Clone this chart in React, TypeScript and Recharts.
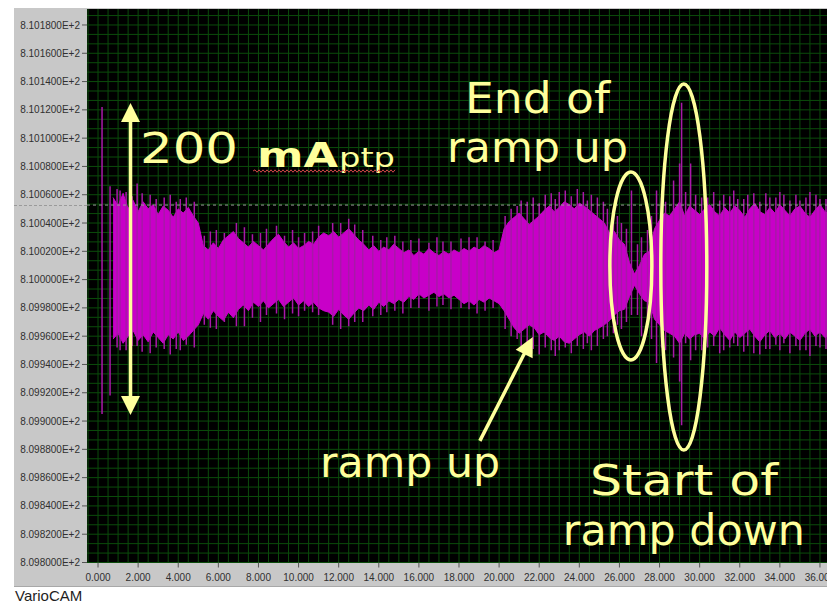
import React from 'react';
import {
  ComposedChart,
  Area,
  Line,
  XAxis,
  YAxis,
  CartesianGrid,
  ReferenceLine,
  ReferenceDot,
} from 'recharts';

// ---------- data (time in s, current in A) ----------
const bandX = [
  0.75, 1, 1.25, 1.5, 1.75, 2, 2.25, 2.5, 2.75, 3, 3.25, 3.5, 3.75, 4, 4.25, 4.5, 4.75, 5,
  5.25, 5.5, 5.75, 6, 6.25, 6.5, 6.75, 7, 7.25, 7.5, 7.75, 8, 8.25, 8.5, 8.75, 9, 9.25, 9.5, 9.75, 10, 10.25, 10.5, 10.75, 11, 11.25,
  11.5, 11.75, 12, 12.25, 12.5, 12.75, 13, 13.25, 13.5, 13.75, 14, 14.25, 14.5, 14.75, 15, 15.25, 15.5, 15.75, 16, 16.25,
  16.5, 16.75, 17, 17.25, 17.5, 17.75, 18, 18.25, 18.5, 18.75, 19, 19.25, 19.5, 19.75, 20,
  20.25, 20.5, 20.75, 21, 21.25, 21.5, 21.75, 22, 22.25, 22.5, 22.75, 23, 23.25, 23.5, 23.75, 24, 24.25, 24.5, 24.75, 25, 25.25, 25.5,
  25.75, 26, 26.25, 26.5, 26.75, 27, 27.25, 27.5, 27.75, 28, 28.25, 28.5,
  28.75, 29, 29.25, 29.5, 29.75,
  30, 30.25, 30.5, 30.75, 31, 31.25, 31.5, 31.75, 32, 32.25, 32.5, 32.75, 33, 33.25, 33.5, 33.75, 34, 34.25, 34.5, 34.75, 35, 35.25, 35.5, 35.75, 36, 36.25, 36.5,
];

const bandHi = [
  810.058, 810.052, 810.061, 810.05, 810.056, 810.048, 810.055, 810.05, 810.053, 810.046, 810.052, 810.049, 810.044, 810.05, 810.047, 810.051, 810.045, 810.04,
  810.024, 810.021, 810.026, 810.022, 810.028, 810.031, 810.034, 810.029, 810.026, 810.023, 810.027, 810.024, 810.021, 810.025, 810.029, 810.032, 810.027, 810.023, 810.026, 810.022, 810.024, 810.027, 810.025, 810.03, 810.033,
  810.031, 810.034, 810.03, 810.033, 810.036, 810.032, 810.028, 810.025, 810.021, 810.024, 810.02, 810.023, 810.021, 810.025, 810.022, 810.019, 810.021, 810.017, 810.02, 810.018,
  810.022, 810.019, 810.017, 810.02, 810.018, 810.021, 810.019, 810.022, 810.02, 810.023, 810.021, 810.024, 810.022, 810.019, 810.021,
  810.036, 810.041, 810.044, 810.047, 810.043, 810.039, 810.042, 810.045, 810.049, 810.052, 810.048, 810.051, 810.055, 810.053, 810.05, 810.054, 810.052, 810.049, 810.046, 810.043, 810.04, 810.033,
  810.034, 810.028, 810.025, 810.012, 810.004, 810.01, 810.018, 810.02, 810.036, 810.042, 810.047, 810.045,
  810.05, 810.055, 810.045, 810.052, 810.049,
  810.046, 810.05, 810.053, 810.048, 810.045, 810.051, 810.047, 810.052, 810.049, 810.044, 810.05, 810.054, 810.048, 810.046, 810.051, 810.047, 810.053, 810.049, 810.045, 810.05, 810.052, 810.047, 810.044, 810.049, 810.053, 810.048, 810.046,
];

const bandLo = [
  809.958, 809.962, 809.955, 809.96, 809.964, 809.957, 809.961, 809.956, 809.963, 809.959, 809.955, 809.961, 809.958, 809.963, 809.957, 809.96, 809.964, 809.968,
  809.976, 809.972, 809.978, 809.974, 809.971, 809.977, 809.973, 809.979, 809.982, 809.978, 809.984, 809.981, 809.985, 809.98, 809.983, 809.986, 809.981, 809.984, 809.987, 809.982, 809.985, 809.981, 809.984, 809.98, 809.978,
  809.977, 809.974, 809.979, 809.975, 809.972, 809.976, 809.98, 809.978, 809.982, 809.979, 809.984, 809.981, 809.985, 809.983, 809.986, 809.984, 809.988, 809.986, 809.99, 809.987,
  809.989, 809.991, 809.988, 809.99, 809.987, 809.989, 809.986, 809.983, 809.985, 809.982, 809.986, 809.984, 809.987, 809.985, 809.983,
  809.978, 809.972, 809.966, 809.962, 809.965, 809.968, 809.966, 809.961, 809.963, 809.959, 809.957, 809.96, 809.956, 809.955, 809.958, 809.961, 809.963, 809.96, 809.964, 809.966, 809.968, 809.971,
  809.975, 809.978, 809.979, 809.988, 809.996, 809.99, 809.985, 809.984, 809.972, 809.968, 809.964, 809.962,
  809.96, 809.955, 809.962, 809.958, 809.961,
  809.962, 809.958, 809.963, 809.96, 809.966, 809.961, 809.957, 809.963, 809.959, 809.962, 809.965, 809.96, 809.956, 809.961, 809.964, 809.959, 809.962, 809.958, 809.963, 809.96, 809.957, 809.962, 809.965, 809.96, 809.963, 809.959, 809.961,
];

// individual spikes / hairs sticking out of the envelope: time, top, bottom
const spikeX = [
  0.2, 0.6, 0.95, 1.1, 1.4, 1.7, 1.95, 2.2, 2.6, 2.9, 3.3, 3.6, 3.9, 4.1, 4.4, 4.8,
  5.3, 5.6, 5.9, 6.3, 6.9, 7.3, 7.7, 8.1, 8.4, 8.9, 9.3, 9.7, 10.0, 10.3, 10.7, 11.0,
  11.7, 12.1, 12.5, 12.8, 13.2, 13.7, 14.1, 14.4, 14.8, 15.2, 15.6, 16.0, 16.5, 16.9, 17.2, 17.6, 18.1, 18.5, 18.9, 19.3, 19.7,
  20.3, 20.6, 20.9, 21.1, 21.4, 21.7, 22.0, 22.3, 22.6, 22.8, 23.0, 23.3, 23.6, 23.9, 24.2, 24.4, 24.6, 24.9, 25.2, 25.4,
  25.7, 25.9, 26.1, 26.35, 26.6, 26.9, 27.1, 27.4, 27.6, 27.85, 28.1, 28.3, 28.7, 29.0, 29.1, 29.3, 29.55, 29.8,
  30.1, 30.4, 30.7, 31.0, 31.2, 31.5, 31.7, 31.9, 32.2, 32.4, 32.7, 33.0, 33.3, 33.5, 33.8, 34.0, 34.2, 34.5, 34.8, 35.0, 35.3, 35.5, 35.8, 36.0, 36.3, 36.5,
];
const spikeTop = [
  810.122, 810.066, 810.064, 810.063, 810.062, 810.059, 810.068, 810.061, 810.06, 810.057, 810.058, 810.06, 810.055, 810.057, 810.058, 810.055,
  810.031, 810.034, 810.035, 810.033, 810.04, 810.037, 810.032, 810.033, 810.036, 810.038, 810.031, 810.035, 810.03, 810.033, 810.034, 810.038,
  810.04, 810.04, 810.043, 810.039, 810.035, 810.031, 810.028, 810.03, 810.031, 810.027, 810.028, 810.029, 810.026, 810.03, 810.027, 810.027, 810.029, 810.03, 810.03, 810.027, 810.028,
  810.045, 810.05, 810.052, 810.056, 810.055, 810.058, 810.054, 810.06, 810.061, 810.057, 810.062, 810.063, 810.059, 810.064, 810.062, 810.056, 810.06, 810.058, 810.055, 810.05,
  810.05, 810.045, 810.04, 810.036, 810.063, 810.025, 810.03, 810.035, 810.045, 810.063, 810.058, 810.055, 810.07, 810.082, 810.125, 810.062, 810.082, 810.06,
  810.058, 810.058, 810.062, 810.056, 810.06, 810.059, 810.063, 810.057, 810.057, 810.06, 810.061, 810.055, 810.061, 810.058, 810.058, 810.062, 810.06, 810.056, 810.06, 810.056, 810.058, 810.062, 810.06, 810.057, 810.057, 810.06,
];
const spikeBottom = [
  809.905, 809.918, 809.952, 809.95, 809.95, 809.953, 809.953, 809.949, 809.948, 809.952, 809.951, 809.947, 809.951, 809.95, 809.954, 809.952,
  809.968, 809.966, 809.965, 809.97, 809.967, 809.967, 809.973, 809.97, 809.975, 809.976, 809.972, 809.976, 809.974, 809.978, 809.977, 809.975,
  809.968, 809.965, 809.967, 809.97, 809.97, 809.974, 809.975, 809.977, 809.978, 809.976, 809.98, 809.98, 809.978, 809.981, 809.982, 809.979, 809.98, 809.979, 809.976, 809.978, 809.98,
  809.965, 809.96, 809.958, 809.953, 809.955, 809.951, 809.947, 809.952, 809.95, 809.946, 809.95, 809.952, 809.948, 809.953, 809.951, 809.955, 809.95, 809.953, 809.958, 809.96,
  809.962, 809.968, 809.965, 809.97, 809.975, 809.975, 809.96, 809.966, 809.958, 809.941, 809.952, 809.95, 809.945, 809.928, 809.897, 809.955, 809.943, 809.95,
  809.95, 809.952, 809.953, 809.948, 809.95, 809.952, 809.955, 809.953, 809.949, 809.953, 809.948, 809.947, 809.951, 809.951, 809.954, 809.95, 809.955, 809.948, 809.953, 809.95, 809.95, 809.946, 809.953, 809.952, 809.951, 809.949,
];

const xTicks = [0, 2, 4, 6, 8, 10, 12, 14, 16, 18, 20, 22, 24, 26, 28, 30, 32, 34, 36];
const yTicks = [
  809.8, 809.82, 809.84, 809.86, 809.88, 809.9, 809.92, 809.94, 809.96, 809.98,
  810.0, 810.02, 810.04, 810.06, 810.08, 810.1, 810.12, 810.14, 810.16, 810.18,
];

const cursorLevel = 810.0527;

// ---------- tables built from the arrays ----------
const bandRows = bandX.map((x, i) => ({ x, band: [bandLo[i], bandHi[i]] }));
const spikeRows: { x: number; s: number | null }[] = [];
spikeX.forEach((x, i) => {
  spikeRows.push({ x, s: spikeTop[i] });
  spikeRows.push({ x, s: spikeBottom[i] });
  spikeRows.push({ x, s: null });
});

// ---------- layout / style ----------
const X0 = -0.55;
const X1 = 36.6;
const Y0 = 809.8;
const Y1 = 810.1913;
const YELLOW = '#ffff9c';
const MAGENTA = '#c800c8';
const GRID = '#0b4c0b';
const FONT = '"DejaVu Sans", sans-serif';

const gridXs: number[] = [];
for (let v = -0.5; v <= 36.6; v += 0.5) gridXs.push(v);
const gridYs: number[] = [];
for (let k = 0; k <= 60; k++) {
  const v = Y0 + (k * 0.02) / 3;
  if (v < Y1) gridYs.push(v);
}

const textNotes = [
  { x: 18.3, y: 810.1178, text: 'End of', w: 145 },
  { x: 17.4, y: 810.0831, text: 'ramp up', w: 181 },
  { x: 11.07, y: 809.8605, text: 'ramp up', w: 180 },
  { x: 24.53, y: 809.8477, text: 'Start of', w: 188 },
  { x: 23.18, y: 809.8124, text: 'ramp down', w: 242 },
];

const ellipses = [
  { x: 26.57, y: 810.0096, rx: 21, ry: 94 },
  { x: 29.21, y: 810.0089, rx: 23, ry: 183 },
];

function ArrowShape(props: any) {
  const { x1, y1, x2, y2, both } = props;
  if ([x1, y1, x2, y2].some((v) => typeof v !== 'number' || isNaN(v))) return null;
  const dx = x2 - x1;
  const dy = y2 - y1;
  const L = Math.hypot(dx, dy) || 1;
  const ux = dx / L;
  const uy = dy / L;
  const px = -uy;
  const py = ux;
  const HL = 19;
  const HW = 9.5;
  const head = (tx: number, ty: number, dxu: number, dyu: number) => {
    const bx = tx - dxu * HL;
    const by = ty - dyu * HL;
    return `${tx},${ty} ${bx + px * HW},${by + py * HW} ${bx - px * HW},${by - py * HW}`;
  };
  const sx = both ? x1 + ux * HL * 0.8 : x1;
  const sy = both ? y1 + uy * HL * 0.8 : y1;
  return (
    <g>
      <line x1={sx} y1={sy} x2={x2 - ux * HL * 0.8} y2={y2 - uy * HL * 0.8} stroke={YELLOW} strokeWidth={3.5} />
      <polygon points={head(x2, y2, ux, uy)} fill={YELLOW} />
      {both ? <polygon points={head(x1, y1, -ux, -uy)} fill={YELLOW} /> : null}
    </g>
  );
}

function wavyPath(x0: number, x1: number, y: number) {
  let d = `M${x0},${y}`;
  let up = true;
  for (let x = x0 + 2; x <= x1; x += 2) {
    d += ` L${x},${y + (up ? -1.2 : 1.2)}`;
    up = !up;
  }
  return d;
}

function TitleShape(props: any) {
  const { cx, cy } = props;
  if (typeof cx !== 'number' || typeof cy !== 'number') return null;
  return (
    <g>
      <text x={cx} y={cy} fill={YELLOW} fontFamily={FONT} fontSize={42} textLength={98} lengthAdjust="spacingAndGlyphs">
        200
      </text>
      <text x={cx + 117} y={cy + 4} fill={YELLOW} fontFamily={FONT} fontSize={34} fontWeight="bold" textLength={81} lengthAdjust="spacingAndGlyphs">
        mA
      </text>
      <text x={cx + 199} y={cy + 4} fill={YELLOW} fontFamily={FONT} fontSize={27} textLength={56} lengthAdjust="spacingAndGlyphs">
        ptp
      </text>
      <path d={wavyPath(cx + 113, cx + 255, cy + 8)} stroke="#d04848" strokeWidth={1} fill="none" />
    </g>
  );
}

export default function App() {
  return (
    <div style={{ position: 'relative', width: 827, height: 603, overflow: 'hidden', background: '#ffffff' }}>
      <style>{`html,body{margin:0;padding:0;overflow:hidden;background:#fff}`}</style>
      <div
        style={{
          position: 'absolute',
          left: 14,
          top: 8,
          width: 813,
          height: 579,
          background: '#c8c8c8',
          borderBottom: '1px solid #a8a8a8',
          boxSizing: 'border-box',
        }}
      />
      <div
        style={{
          position: 'absolute',
          left: 14,
          top: 205,
          width: 73,
          height: 0,
          borderTop: '1px dashed #9a9a9a',
        }}
      />
      <div style={{ position: 'absolute', left: 8, top: 8 }}>
        <ComposedChart width={824} height={580} margin={{ top: 1, right: 0, bottom: 0, left: 0 }}>
          <CartesianGrid
            stroke={GRID}
            strokeWidth={1}
            fill="#000000"
            fillOpacity={1}
            verticalCoordinatesGenerator={({ xAxis, offset }: any) =>
              gridXs.map((v) =>
                xAxis && typeof xAxis.scale === 'function'
                  ? xAxis.scale(v)
                  : offset.left + ((v - X0) / (X1 - X0)) * offset.width,
              )
            }
            horizontalCoordinatesGenerator={({ yAxis, offset }: any) =>
              gridYs.map((v) =>
                yAxis && typeof yAxis.scale === 'function'
                  ? yAxis.scale(v)
                  : offset.top + ((Y1 - v) / (Y1 - Y0)) * offset.height,
              )
            }
          />
          <XAxis
            type="number"
            dataKey="x"
            domain={[X0, X1]}
            allowDataOverflow
            ticks={xTicks}
            interval={0}
            tickFormatter={(v: number) => v.toFixed(3)}
            axisLine={false}
            tickLine={{ stroke: '#555555' }}
            tickSize={5}
            tickMargin={6}
            height={25.5}
            tick={{ fill: '#303030', fontSize: 10, fontFamily: '"Liberation Sans", Arial, sans-serif' }}
          />
          <YAxis
            type="number"
            domain={[Y0, Y1]}
            allowDataOverflow
            ticks={yTicks}
            interval={0}
            tickFormatter={(v: number) => (v / 100).toFixed(6) + 'E+2'}
            axisLine={false}
            tickLine={{ stroke: '#555555' }}
            tickSize={5}
            tickMargin={2}
            width={79}
            tick={{ fill: '#303030', fontSize: 10, fontFamily: '"Liberation Sans", Arial, sans-serif' }}
          />
          <Area
            data={bandRows}
            dataKey="band"
            type="linear"
            stroke={MAGENTA}
            strokeWidth={1}
            fill={MAGENTA}
            fillOpacity={1}
            isAnimationActive={false}
            dot={false}
            activeDot={false}
          />
          <Line
            data={spikeRows}
            dataKey="s"
            type="linear"
            stroke="#a818a8"
            strokeWidth={1.5}
            dot={false}
            activeDot={false}
            connectNulls={false}
            isAnimationActive={false}
          />
          <ReferenceLine y={cursorLevel} stroke="#9a9a9a" strokeDasharray="3 3" strokeWidth={1} />
          <ReferenceLine
            segment={[
              { x: 1.62, y: 810.1249 },
              { x: 1.62, y: 809.9043 },
            ]}
            shape={(p: any) => <ArrowShape {...p} both />}
          />
          <ReferenceLine
            segment={[
              { x: 19.04, y: 809.886 },
              { x: 21.68, y: 809.9594 },
            ]}
            shape={(p: any) => <ArrowShape {...p} />}
          />
          {ellipses.map((e, i) => (
            <ReferenceDot
              key={'e' + i}
              x={e.x}
              y={e.y}
              r={1}
              shape={(p: any) =>
                typeof p.cx === 'number' ? (
                  <ellipse cx={p.cx} cy={p.cy} rx={e.rx} ry={e.ry} fill="none" stroke={YELLOW} strokeWidth={3.5} />
                ) : null
              }
            />
          ))}
          <ReferenceDot x={2.094} y={810.0824} r={1} shape={(p: any) => <TitleShape {...p} />} />
          {textNotes.map((t, i) => (
            <ReferenceDot
              key={'t' + i}
              x={t.x}
              y={t.y}
              r={1}
              shape={(p: any) =>
                typeof p.cx === 'number' ? (
                  <text
                    x={p.cx}
                    y={p.cy}
                    fill={YELLOW}
                    fontFamily={FONT}
                    fontSize={42}
                    textLength={t.w}
                    lengthAdjust="spacingAndGlyphs"
                  >
                    {t.text}
                  </text>
                ) : null
              }
            />
          ))}
        </ComposedChart>
      </div>
      <div
        style={{
          position: 'absolute',
          left: 15,
          top: 588,
          fontFamily: '"Liberation Sans", Arial, sans-serif',
          fontSize: 15,
          lineHeight: '15px',
          color: '#1e1e1e',
        }}
      >
        VarioCAM
      </div>
    </div>
  );
}
